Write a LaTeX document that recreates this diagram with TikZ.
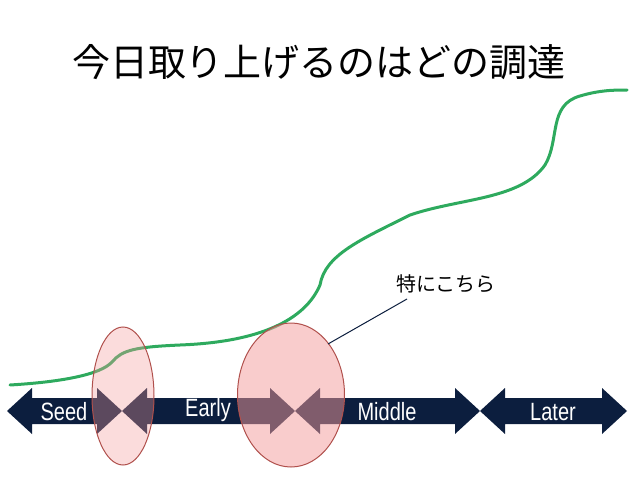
\documentclass[tikz,border=0pt]{standalone}
\usepackage{fontspec}
\usetikzlibrary{shapes.geometric}
\setmainfont{Liberation Sans}
\newfontfamily\jp{Noto Sans CJK JP}
\begin{document}
\begin{tikzpicture}[x=1pt,y=-1pt,
  stage/.style={fill=arrowc},
  lbl/.style={text=white,font=\fontsize{25}{25}\selectfont,xscale=0.8},
  oval/.style={draw=ovalc,line width=1pt,fill=ovalf,fill opacity=0.5}]
\definecolor{arrowc}{HTML}{0C1E3E}
\definecolor{ovalc}{HTML}{B0504C}
\definecolor{ovalf}{HTML}{F49A9A}
\definecolor{greenc}{HTML}{2EAA5E}
\useasboundingbox (0,0) rectangle (638,479);
\node (title) at (319,62) {\jp\fontsize{38}{38}\selectfont 今日取り上げるのはどの調達};
% arrows
\foreach \a/\b/\n in {7/122/s,122/295/e,295/480/m,480/627/l}{
  \fill[arrowc] (\a,411) -- (\a+25,388) -- (\a+25,398) -- (\b-25,398) -- (\b-25,388) -- (\b,411) -- (\b-25,434) -- (\b-25,424) -- (\a+25,424) -- (\a+25,434) -- cycle;
}
\node[lbl] (seed) at (64,412) {Seed};
\node[lbl] (early) at (208,410) {Early};
\node[lbl] (middle) at (387,412) {Middle};
\node[lbl] (later) at (553,412) {Later};
% growth curve
\draw[greenc,line width=3pt,line cap=round] (10,385) .. controls (60,382) and (100,375) .. (112,362)
  .. controls (122,350) and (135,347) .. (180,345)
  .. controls (260,342) and (305,320) .. (320,285)
  .. controls (325,255) and (360,240) .. (410,215)
  .. controls (460,198) and (520,200) .. (545,165)
  .. controls (560,140) and (548,105) .. (580,96)
  .. controls (600,90) and (615,90) .. (627,90);
\node[oval,ellipse,minimum width=62pt,minimum height=138pt,fill opacity=0.35] (o1) at (123,396) {};
\node[oval,ellipse,minimum width=107pt,minimum height=144pt] (o2) at (291,395) {};
\node (note) at (446,284) {\jp\fontsize{20}{20}\selectfont 特にこちら};
\coordinate (c1) at (328,344);
\coordinate (c2) at (407,299);
\draw[arrowc,line width=1pt] (c1) -- (c2);
\end{tikzpicture}
\end{document}
